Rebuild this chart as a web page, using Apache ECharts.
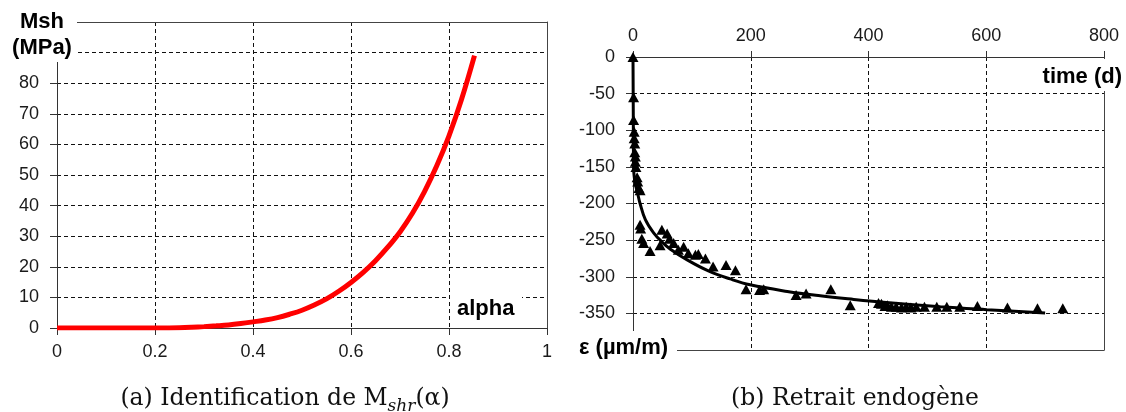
<!DOCTYPE html>
<html><head><meta charset="utf-8">
<script src="https://cdn.jsdelivr.net/npm/echarts@6/dist/echarts.min.js"></script>
<style>html,body{margin:0;padding:0;background:#fff}#c{width:1126px;height:412px}</style>
</head><body><div id="c"></div>
<script>
// ---- (a) Msh(alpha) ----
const alphaValues = [0, 0.1, 0.2, 0.225, 0.25, 0.275, 0.3, 0.325, 0.35, 0.375, 0.4, 0.425, 0.45, 0.475, 0.5, 0.525, 0.55, 0.575, 0.6, 0.625, 0.65, 0.675, 0.7, 0.725, 0.75, 0.775, 0.8, 0.825, 0.852];
const mshValues   = [0, 0, 0, 0.03, 0.1, 0.25, 0.45, 0.7, 1.0, 1.45, 2.0, 2.6, 3.4, 4.5, 5.8, 7.5, 9.5, 12.0, 14.9, 18.2, 22.0, 26.4, 31.4, 37.4, 44.6, 53.0, 62.8, 74.4, 89];

// ---- (b) Retrait endogène ----
const fitTime   = [0, 0.5, 1, 2, 4, 7, 12, 21, 35, 50, 63, 92, 128, 165, 199, 262, 318, 375, 420, 522, 601, 700];
const fitStrain = [0, -80, -150, -163, -174, -183, -200, -222, -240, -253, -262, -277, -292, -303, -311, -320, -326, -331, -334.5, -341, -345, -349.5];
const measTime   = [0, 1, 1, 2, 2, 3, 3, 4, 4, 5, 7, 8, 10, 12,
  12, 13, 15, 18, 29, 46, 49, 58, 62, 69, 77, 86, 94, 106, 111, 123, 136, 158, 174, 192, 215, 222,
  277, 294, 336, 369, 417, 422, 428, 432, 439, 447, 456, 464, 472, 481, 495, 516, 533, 555, 585, 636, 687, 730];
const measStrain = [0, -55, -86, -102, -111, -118, -130, -136, -143, -150, -164, -170, -179, -182,
  -229, -234, -248, -254, -265, -257, -236, -241, -248, -254, -263, -259, -268, -270, -269, -275, -286, -284, -291, -317, -318, -317,
  -325, -323, -317, -339, -336, -337, -340, -339, -341, -341, -342, -341, -342, -341, -341, -341, -341, -341, -340, -342, -343, -343];

const captionA = ['(a) Identification de M', 'shr', '(\u03b1)'];
const captionB = '(b) Retrait endogène';
const yNameA = 'Msh\n(MPa)';
const xNameA = 'alpha';
const xNameB = 'time (d)';
const yNameB = '\u03b5 (\u00b5m/m)';

const SANS = '"Liberation Sans", Arial, sans-serif';
const SERIF = '"DejaVu Serif", serif';
const TXT = '#1a1a1a';
const gridDash = { type: [4, 3], color: '#111', width: 1 };
const axisCol = '#333';

const ctx = document.createElement('canvas').getContext('2d');
function tw(t, f) { ctx.font = f; return ctx.measureText(t).width; }
const fMain = '23.5px ' + SERIF, fSub = 'italic 17px ' + SERIF;
const wa0 = tw(captionA[0], fMain), wa1 = tw(captionA[1], fSub), wa2 = tw(captionA[2], fMain);
const startA = 285 - (wa0 + wa1 + wa2) / 2;

function borderAxis(grid, pos, min, max) {
  return { gridIndex: grid, type: 'value', position: pos, min: min, max: max,
    axisLine: { show: true, onZero: false, lineStyle: { color: '#444', width: 1 } },
    axisTick: { show: false }, axisLabel: { show: false }, splitLine: { show: false } };
}

const chart = echarts.init(document.getElementById('c'), null, { renderer: 'canvas' });
chart.setOption({
  animation: false,
  backgroundColor: '#fff',
  grid: [
    { left: 57, top: 22, width: 490, height: 306 },
    { left: 633, top: 57, width: 471, height: 293 }
  ],
  xAxis: [
    { gridIndex: 0, type: 'value', min: 0, max: 1, interval: 0.2, position: 'bottom',
      axisLine: { show: true, lineStyle: { color: axisCol, width: 1 } },
      axisTick: { show: true, length: 7, lineStyle: { color: axisCol } },
      axisLabel: { color: TXT, fontFamily: SANS, fontSize: 18, margin: 15 },
      splitLine: { show: true, lineStyle: gridDash } },
    { gridIndex: 1, type: 'value', min: 0, max: 800, interval: 200, position: 'top',
      axisLine: { show: true, onZero: false, lineStyle: { color: axisCol, width: 1 } },
      axisTick: { show: true, length: 6, lineStyle: { color: axisCol } },
      axisLabel: { color: TXT, fontFamily: SANS, fontSize: 18, margin: 12 },
      splitLine: { show: true, lineStyle: gridDash } },
    borderAxis(0, 'top', 0, 1),
    borderAxis(1, 'bottom', 0, 800)
  ],
  yAxis: [
    { gridIndex: 0, type: 'value', min: 0, max: 100, interval: 10,
      axisLine: { show: true, lineStyle: { color: axisCol, width: 1 } },
      axisTick: { show: true, length: 7, lineStyle: { color: axisCol } },
      axisLabel: { color: TXT, fontFamily: SANS, fontSize: 18, margin: 18,
        formatter: v => (v >= 90 ? '' : String(v)) },
      splitLine: { show: true, lineStyle: gridDash } },
    { gridIndex: 1, type: 'value', min: -400, max: 0, interval: 50,
      axisLine: { show: true, onZero: false, lineStyle: { color: axisCol, width: 1 } },
      axisTick: { show: true, length: 7, lineStyle: { color: axisCol } },
      axisLabel: { color: TXT, fontFamily: SANS, fontSize: 18, margin: 18,
        formatter: v => (v <= -400 ? '' : String(v)) },
      splitLine: { show: true, lineStyle: gridDash } },
    borderAxis(0, 'right', 0, 100),
    borderAxis(1, 'right', -400, 0)
  ],
  series: [
    { type: 'line', xAxisIndex: 0, yAxisIndex: 0, smooth: 0.4, showSymbol: false,
      data: alphaValues.map((a, i) => [a, mshValues[i]]),
      lineStyle: { color: '#ff0000', width: 5 }, z: 5 },
    { type: 'line', xAxisIndex: 1, yAxisIndex: 1, smooth: 0.4, showSymbol: false,
      data: fitTime.map((t, i) => [t, fitStrain[i]]),
      lineStyle: { color: '#000', width: 3 }, z: 5 },
    { type: 'scatter', xAxisIndex: 1, yAxisIndex: 1, symbol: 'triangle', symbolSize: [11, 10],
      data: measTime.map((t, i) => [t, measStrain[i]]),
      itemStyle: { color: '#000', opacity: 1 }, z: 6 }
  ],
  graphic: { elements: [
    { type: 'rect', z: 100, shape: { x: 0, y: 0, width: 77, height: 62 }, style: { fill: '#fff' } },
    { type: 'text', z: 101, style: { text: yNameA, x: 42, y: 9, align: 'center', verticalAlign: 'top',
        font: 'bold 22px ' + SANS, fill: '#000', lineHeight: 26 } },
    { type: 'rect', z: 100, shape: { x: 450, y: 287, width: 72, height: 36 }, style: { fill: '#fff' } },
    { type: 'text', z: 101, style: { text: xNameA, x: 457, y: 309, align: 'left', verticalAlign: 'middle',
        font: 'bold 22px ' + SANS, fill: '#000' } },
    { type: 'rect', z: 100, shape: { x: 1034, y: 59, width: 92, height: 32 }, style: { fill: '#fff' } },
    { type: 'text', z: 101, style: { text: xNameB, x: 1122, y: 77, align: 'right', verticalAlign: 'middle',
        font: 'bold 22px ' + SANS, fill: '#000' } },
    { type: 'rect', z: 100, shape: { x: 572, y: 331, width: 105, height: 34 }, style: { fill: '#fff' } },
    { type: 'text', z: 101, style: { text: yNameB, x: 579, y: 348, align: 'left', verticalAlign: 'middle',
        font: 'bold 22px ' + SANS, fill: '#000' } },
    { type: 'text', z: 101, style: { text: captionA[0], x: startA, y: 399, align: 'left', verticalAlign: 'middle',
        font: fMain, fill: '#111' } },
    { type: 'text', z: 101, style: { text: captionA[1], x: startA + wa0, y: 407, align: 'left', verticalAlign: 'middle',
        font: fSub, fill: '#111' } },
    { type: 'text', z: 101, style: { text: captionA[2], x: startA + wa0 + wa1, y: 399, align: 'left', verticalAlign: 'middle',
        font: fMain, fill: '#111' } },
    { type: 'text', z: 101, style: { text: captionB, x: 855, y: 399, align: 'center', verticalAlign: 'middle',
        font: fMain, fill: '#111' } }
  ] }
});
</script>
</body></html>
